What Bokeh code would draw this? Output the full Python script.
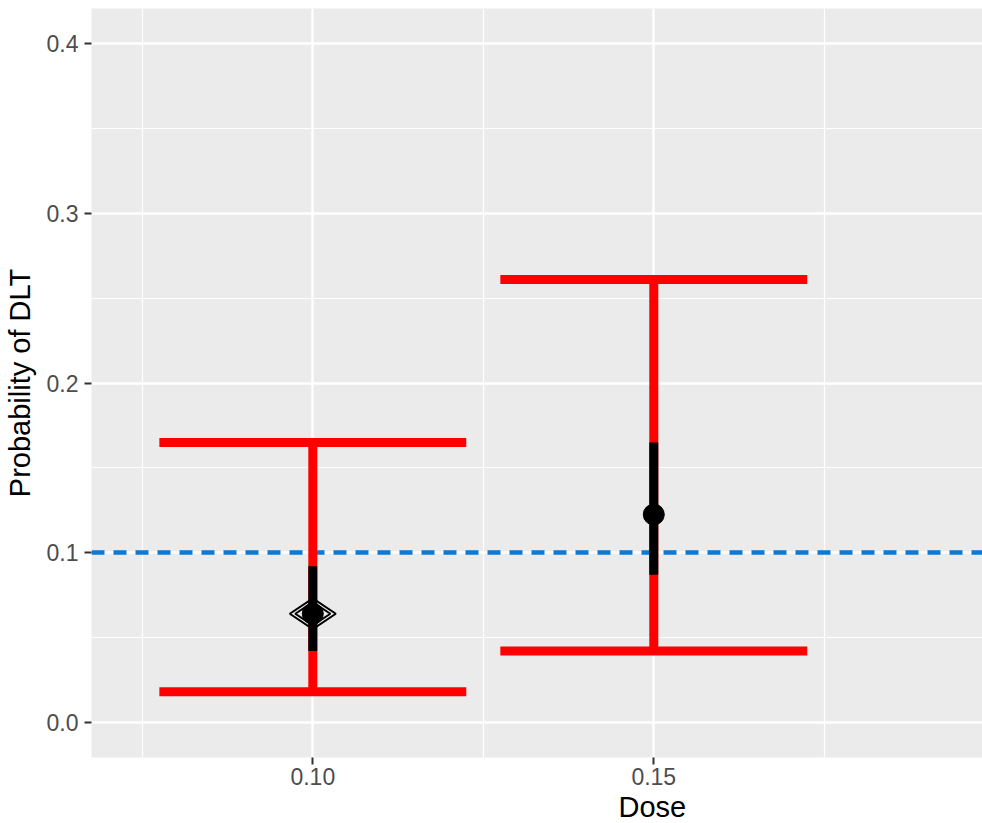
import math
from bokeh.plotting import figure
from bokeh.models import FixedTicker, PrintfTickFormatter, Range1d, Title, ColumnDataSource
from bokeh.embed import file_html
from bokeh.resources import INLINE

# ---- data ----
doses = [0.10, 0.15]
ci_lower = [0.018, 0.042]
ci_upper = [0.165, 0.261]
inner_lower = [0.042, 0.087]
inner_upper = [0.092, 0.165]
estimate = [0.064, 0.1225]
selected_dose = [0.10]
selected_est = [0.064]
target = [0.10]
y_ticks = [0.0, 0.1, 0.2, 0.3, 0.4]
y_minor = [0.05, 0.15, 0.25, 0.35]
x_ticks = [0.10, 0.15]
x_minor = [0.075, 0.125, 0.175]

CAP_HALF = 0.0225
FONT = "Liberation Sans"

p = figure(width=982, height=823, output_backend="svg", toolbar_location=None,
           x_range=Range1d(0.06755, 0.1982), y_range=Range1d(-0.0207, 0.4207),
           min_border_left=91, min_border_top=8, min_border_right=0, min_border_bottom=0)
p.background_fill_color = "#EBEBEB"
p.border_fill_color = "white"
p.outline_line_color = None

p.xaxis.ticker = FixedTicker(ticks=x_ticks, minor_ticks=x_minor)
p.yaxis.ticker = FixedTicker(ticks=y_ticks, minor_ticks=y_minor)
p.xaxis.formatter = PrintfTickFormatter(format="%.2f")
p.yaxis.formatter = PrintfTickFormatter(format="%.1f")

for ax in (p.xaxis, p.yaxis):
    ax.axis_line_color = None
    ax.major_tick_line_color = "#333333"
    ax.major_tick_line_width = 2
    ax.major_tick_out = 7
    ax.major_tick_in = 0
    ax.minor_tick_line_color = None
    ax.major_label_text_font = FONT
    ax.major_label_text_font_size = "23px"
    ax.major_label_text_color = "#4D4D4D"
    ax.axis_label_text_font = FONT
    ax.axis_label_text_font_size = "29px"
    ax.axis_label_text_font_style = "normal"
    ax.axis_label_text_color = "black"

p.xaxis.major_label_standoff = 3
p.yaxis.major_label_standoff = 6
p.yaxis.axis_label = "Probability of DLT"
p.yaxis.axis_label_standoff = 8

for g in (p.xgrid, p.ygrid):
    g.grid_line_color = "white"
    g.grid_line_width = 2.4
    g.minor_grid_line_color = "white"
    g.minor_grid_line_width = 1.2

# target line
p.hspan(y=target, line_color="#0A7AD8", line_width=4.5, line_dash="13 9")

src = ColumnDataSource(dict(
    dose=doses, lo=ci_lower, hi=ci_upper, ilo=inner_lower, ihi=inner_upper, est=estimate,
    cap_l=[d - CAP_HALF for d in doses], cap_r=[d + CAP_HALF for d in doses],
))

# red credible interval bars
p.segment(x0="dose", y0="lo", x1="dose", y1="hi", source=src,
          line_color="#FF0000", line_width=9, line_cap="butt")
p.segment(x0="cap_l", y0="hi", x1="cap_r", y1="hi", source=src,
          line_color="#FF0000", line_width=9, line_cap="butt")
p.segment(x0="cap_l", y0="lo", x1="cap_r", y1="lo", source=src,
          line_color="#FF0000", line_width=9, line_cap="butt")

# black inner interval
p.segment(x0="dose", y0="ilo", x1="dose", y1="ihi", source=src,
          line_color="black", line_width=9, line_cap="butt")

# point estimates
p.scatter(x="dose", y="est", source=src, size=21, color="black")

# selected dose diamond
p.scatter(x=selected_dose, y=selected_est, marker="diamond", angle=math.pi / 2,
          size=46, fill_color=None, line_color="black", line_width=2)
p.scatter(x=selected_dose, y=selected_est, marker="diamond", angle=math.pi / 2,
          size=35, fill_color=None, line_color="black", line_width=2)

# x axis title, centred under 0.15 as in the original (wider) panel
p.add_layout(Title(text="Dose", align="left", offset=527, standoff=2,
                   text_font=FONT, text_font_size="29px", text_font_style="normal",
                   text_color="black"), "below")

open("out.html", "w").write(file_html(p, INLINE))
